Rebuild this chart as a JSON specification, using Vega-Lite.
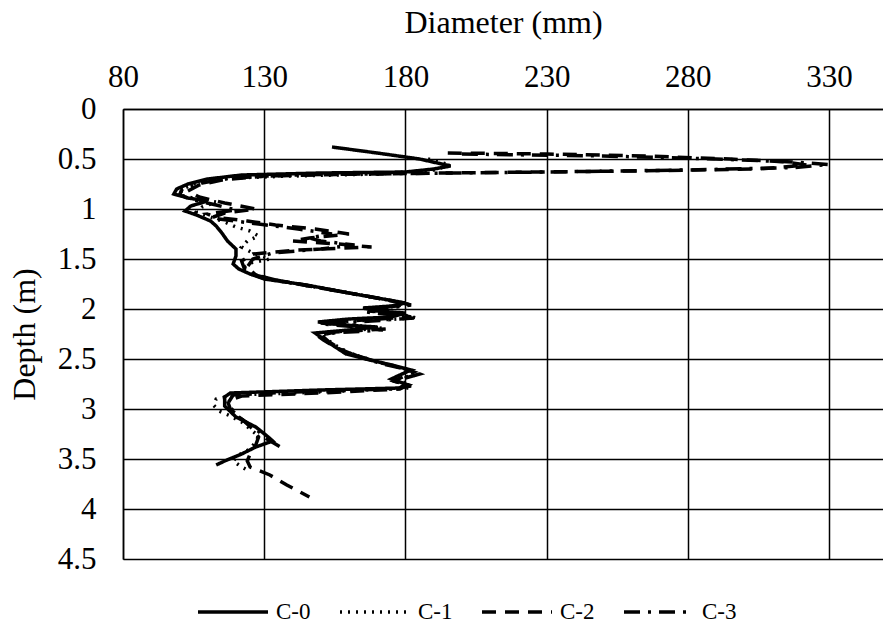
{
  "$schema": "https://vega.github.io/schema/vega-lite/v6.json",
  "width": 760,
  "height": 450,
  "autosize": {"type": "none"},
  "padding": {"left": 123, "top": 109, "right": 0, "bottom": 68},
  "background": "white",
  "config": {
    "font": "Liberation Serif",
    "view": {"stroke": null},
    "text": {"font": "Liberation Serif"},
    "axis": {
      "ticks": false,
      "grid": true,
      "gridColor": "black",
      "gridWidth": 1.5,
      "gridOpacity": 1,
      "domainColor": "black",
      "domainWidth": 1.5,
      "labelFont": "Liberation Serif",
      "titleFont": "Liberation Serif",
      "labelFontSize": 31,
      "titleFontSize": 32,
      "labelColor": "black",
      "titleColor": "black",
      "titleFontWeight": "normal",
      "labelFlush": false,
      "labelOverlap": false,
      "format": "~r"
    },
    "legend": {"labelFont": "Liberation Serif"}
  },
  "datasets": {
    "pts": [
      {"s": "C-0", "d": 0.38, "x": 154}, {"s": "C-0", "d": 0.44, "x": 170}, {"s": "C-0", "d": 0.50, "x": 185}, {"s": "C-0", "d": 0.57, "x": 196}, {"s": "C-0", "d": 0.60, "x": 190}, {"s": "C-0", "d": 0.63, "x": 180}, {"s": "C-0", "d": 0.64, "x": 150}, {"s": "C-0", "d": 0.66, "x": 122}, {"s": "C-0", "d": 0.70, "x": 110}, {"s": "C-0", "d": 0.75, "x": 103}, {"s": "C-0", "d": 0.80, "x": 99}, {"s": "C-0", "d": 0.85, "x": 98}, {"s": "C-0", "d": 0.89, "x": 103}, {"s": "C-0", "d": 0.92, "x": 110}, {"s": "C-0", "d": 0.97, "x": 104}, {"s": "C-0", "d": 1.02, "x": 102}, {"s": "C-0", "d": 1.06, "x": 106}, {"s": "C-0", "d": 1.12, "x": 111}, {"s": "C-0", "d": 1.17, "x": 113}, {"s": "C-0", "d": 1.24, "x": 115}, {"s": "C-0", "d": 1.32, "x": 117}, {"s": "C-0", "d": 1.40, "x": 120}, {"s": "C-0", "d": 1.47, "x": 120}, {"s": "C-0", "d": 1.55, "x": 119}, {"s": "C-0", "d": 1.60, "x": 121}, {"s": "C-0", "d": 1.65, "x": 125}, {"s": "C-0", "d": 1.70, "x": 130}, {"s": "C-0", "d": 1.76, "x": 145}, {"s": "C-0", "d": 1.84, "x": 160}, {"s": "C-0", "d": 1.90, "x": 172}, {"s": "C-0", "d": 1.94, "x": 180}, {"s": "C-0", "d": 1.97, "x": 175}, {"s": "C-0", "d": 1.99, "x": 165}, {"s": "C-0", "d": 2.02, "x": 170}, {"s": "C-0", "d": 2.04, "x": 180}, {"s": "C-0", "d": 2.08, "x": 175}, {"s": "C-0", "d": 2.10, "x": 160}, {"s": "C-0", "d": 2.13, "x": 149}, {"s": "C-0", "d": 2.16, "x": 158}, {"s": "C-0", "d": 2.18, "x": 170}, {"s": "C-0", "d": 2.21, "x": 160}, {"s": "C-0", "d": 2.24, "x": 148}, {"s": "C-0", "d": 2.28, "x": 150}, {"s": "C-0", "d": 2.34, "x": 153}, {"s": "C-0", "d": 2.45, "x": 159}, {"s": "C-0", "d": 2.50, "x": 166}, {"s": "C-0", "d": 2.56, "x": 175}, {"s": "C-0", "d": 2.61, "x": 182}, {"s": "C-0", "d": 2.66, "x": 178}, {"s": "C-0", "d": 2.70, "x": 175}, {"s": "C-0", "d": 2.75, "x": 180}, {"s": "C-0", "d": 2.79, "x": 178}, {"s": "C-0", "d": 2.81, "x": 150}, {"s": "C-0", "d": 2.84, "x": 118}, {"s": "C-0", "d": 2.88, "x": 116}, {"s": "C-0", "d": 2.97, "x": 116}, {"s": "C-0", "d": 3.08, "x": 120}, {"s": "C-0", "d": 3.18, "x": 127}, {"s": "C-0", "d": 3.27, "x": 131}, {"s": "C-0", "d": 3.32, "x": 133}, {"s": "C-0", "d": 3.38, "x": 127}, {"s": "C-0", "d": 3.45, "x": 122}, {"s": "C-0", "d": 3.52, "x": 116}, {"s": "C-0", "d": 3.56, "x": 113},

      {"s": "C-1", "d": 0.50, "x": 188}, {"s": "C-1", "d": 0.56, "x": 196}, {"s": "C-1", "d": 0.61, "x": 190}, {"s": "C-1", "d": 0.65, "x": 170}, {"s": "C-1", "d": 0.67, "x": 140}, {"s": "C-1", "d": 0.69, "x": 118}, {"s": "C-1", "d": 0.74, "x": 106}, {"s": "C-1", "d": 0.80, "x": 101}, {"s": "C-1", "d": 0.86, "x": 100}, {"s": "C-1", "d": 0.90, "x": 106}, {"s": "C-1", "d": 0.93, "x": 113}, {"s": "C-1", "d": 0.98, "x": 108}, {"s": "C-1", "d": 1.03, "x": 106}, {"s": "C-1", "d": 1.07, "x": 110}, {"s": "C-1", "d": 1.13, "x": 116}, {"s": "C-1", "d": 1.18, "x": 120}, {"s": "C-1", "d": 1.22, "x": 125}, {"s": "C-1", "d": 1.27, "x": 128}, {"s": "C-1", "d": 1.32, "x": 124}, {"s": "C-1", "d": 1.38, "x": 122}, {"s": "C-1", "d": 1.44, "x": 126}, {"s": "C-1", "d": 1.50, "x": 132}, {"s": "C-1", "d": 1.54, "x": 125}, {"s": "C-1", "d": 1.60, "x": 122}, {"s": "C-1", "d": 1.66, "x": 126}, {"s": "C-1", "d": 1.71, "x": 133}, {"s": "C-1", "d": 1.78, "x": 148}, {"s": "C-1", "d": 1.85, "x": 162}, {"s": "C-1", "d": 1.91, "x": 174}, {"s": "C-1", "d": 1.95, "x": 181}, {"s": "C-1", "d": 1.99, "x": 172}, {"s": "C-1", "d": 2.02, "x": 168}, {"s": "C-1", "d": 2.05, "x": 178}, {"s": "C-1", "d": 2.09, "x": 184}, {"s": "C-1", "d": 2.11, "x": 170}, {"s": "C-1", "d": 2.13, "x": 152}, {"s": "C-1", "d": 2.16, "x": 160}, {"s": "C-1", "d": 2.19, "x": 172}, {"s": "C-1", "d": 2.22, "x": 158}, {"s": "C-1", "d": 2.26, "x": 150}, {"s": "C-1", "d": 2.30, "x": 152}, {"s": "C-1", "d": 2.36, "x": 155}, {"s": "C-1", "d": 2.44, "x": 160}, {"s": "C-1", "d": 2.51, "x": 168}, {"s": "C-1", "d": 2.57, "x": 176}, {"s": "C-1", "d": 2.62, "x": 183}, {"s": "C-1", "d": 2.66, "x": 184}, {"s": "C-1", "d": 2.70, "x": 176}, {"s": "C-1", "d": 2.74, "x": 180}, {"s": "C-1", "d": 2.79, "x": 181}, {"s": "C-1", "d": 2.83, "x": 150}, {"s": "C-1", "d": 2.86, "x": 120}, {"s": "C-1", "d": 2.90, "x": 113}, {"s": "C-1", "d": 2.96, "x": 112}, {"s": "C-1", "d": 3.02, "x": 114}, {"s": "C-1", "d": 3.07, "x": 118}, {"s": "C-1", "d": 3.13, "x": 122}, {"s": "C-1", "d": 3.20, "x": 125}, {"s": "C-1", "d": 3.27, "x": 128}, {"s": "C-1", "d": 3.33, "x": 127}, {"s": "C-1", "d": 3.40, "x": 125}, {"s": "C-1", "d": 3.46, "x": 121}, {"s": "C-1", "d": 3.52, "x": 119}, {"s": "C-1", "d": 3.58, "x": 122}, {"s": "C-1", "d": 3.61, "x": 124},

      {"s": "C-2", "d": 0.44, "x": 195}, {"s": "C-2", "d": 0.45, "x": 230}, {"s": "C-2", "d": 0.47, "x": 265}, {"s": "C-2", "d": 0.50, "x": 295}, {"s": "C-2", "d": 0.53, "x": 315}, {"s": "C-2", "d": 0.56, "x": 322}, {"s": "C-2", "d": 0.60, "x": 305}, {"s": "C-2", "d": 0.62, "x": 260}, {"s": "C-2", "d": 0.635, "x": 210}, {"s": "C-2", "d": 0.65, "x": 165}, {"s": "C-2", "d": 0.67, "x": 130}, {"s": "C-2", "d": 0.71, "x": 115}, {"s": "C-2", "d": 0.76, "x": 107}, {"s": "C-2", "d": 0.82, "x": 103}, {"s": "C-2", "d": 0.88, "x": 107}, {"s": "C-2", "d": 0.94, "x": 116}, {"s": "C-2", "d": 1.00, "x": 127}, {"s": "C-2", "d": 1.04, "x": 116}, {"s": "C-2", "d": 1.08, "x": 112}, {"s": "C-2", "d": 1.12, "x": 124}, {"s": "C-2", "d": 1.16, "x": 134}, {"s": "C-2", "d": 1.20, "x": 148}, {"s": "C-2", "d": 1.25, "x": 160}, {"s": "C-2", "d": 1.29, "x": 146}, {"s": "C-2", "d": 1.32, "x": 140}, {"s": "C-2", "d": 1.35, "x": 156}, {"s": "C-2", "d": 1.38, "x": 168}, {"s": "C-2", "d": 1.41, "x": 142}, {"s": "C-2", "d": 1.45, "x": 126}, {"s": "C-2", "d": 1.52, "x": 122}, {"s": "C-2", "d": 1.60, "x": 123}, {"s": "C-2", "d": 1.67, "x": 128}, {"s": "C-2", "d": 1.72, "x": 136}, {"s": "C-2", "d": 1.80, "x": 152}, {"s": "C-2", "d": 1.87, "x": 166}, {"s": "C-2", "d": 1.93, "x": 177}, {"s": "C-2", "d": 1.96, "x": 180}, {"s": "C-2", "d": 1.99, "x": 170}, {"s": "C-2", "d": 2.02, "x": 167}, {"s": "C-2", "d": 2.05, "x": 177}, {"s": "C-2", "d": 2.08, "x": 182}, {"s": "C-2", "d": 2.11, "x": 165}, {"s": "C-2", "d": 2.14, "x": 150}, {"s": "C-2", "d": 2.17, "x": 162}, {"s": "C-2", "d": 2.20, "x": 173}, {"s": "C-2", "d": 2.23, "x": 155}, {"s": "C-2", "d": 2.27, "x": 149}, {"s": "C-2", "d": 2.31, "x": 151}, {"s": "C-2", "d": 2.38, "x": 155}, {"s": "C-2", "d": 2.46, "x": 162}, {"s": "C-2", "d": 2.53, "x": 170}, {"s": "C-2", "d": 2.58, "x": 178}, {"s": "C-2", "d": 2.63, "x": 183}, {"s": "C-2", "d": 2.68, "x": 179}, {"s": "C-2", "d": 2.72, "x": 176}, {"s": "C-2", "d": 2.76, "x": 181}, {"s": "C-2", "d": 2.80, "x": 178}, {"s": "C-2", "d": 2.84, "x": 150}, {"s": "C-2", "d": 2.87, "x": 122}, {"s": "C-2", "d": 2.92, "x": 117}, {"s": "C-2", "d": 3.00, "x": 118}, {"s": "C-2", "d": 3.10, "x": 122}, {"s": "C-2", "d": 3.20, "x": 126}, {"s": "C-2", "d": 3.28, "x": 128}, {"s": "C-2", "d": 3.36, "x": 127}, {"s": "C-2", "d": 3.45, "x": 125}, {"s": "C-2", "d": 3.52, "x": 124}, {"s": "C-2", "d": 3.58, "x": 125}, {"s": "C-2", "d": 3.66, "x": 132}, {"s": "C-2", "d": 3.76, "x": 138}, {"s": "C-2", "d": 3.88, "x": 146},

      {"s": "C-3", "d": 0.45, "x": 200}, {"s": "C-3", "d": 0.47, "x": 250}, {"s": "C-3", "d": 0.50, "x": 290}, {"s": "C-3", "d": 0.53, "x": 318}, {"s": "C-3", "d": 0.555, "x": 330}, {"s": "C-3", "d": 0.585, "x": 318}, {"s": "C-3", "d": 0.61, "x": 280}, {"s": "C-3", "d": 0.63, "x": 230}, {"s": "C-3", "d": 0.645, "x": 180}, {"s": "C-3", "d": 0.66, "x": 140}, {"s": "C-3", "d": 0.69, "x": 118}, {"s": "C-3", "d": 0.74, "x": 108}, {"s": "C-3", "d": 0.80, "x": 101}, {"s": "C-3", "d": 0.86, "x": 100}, {"s": "C-3", "d": 0.91, "x": 105}, {"s": "C-3", "d": 0.96, "x": 113}, {"s": "C-3", "d": 1.01, "x": 120}, {"s": "C-3", "d": 1.05, "x": 110}, {"s": "C-3", "d": 1.10, "x": 114}, {"s": "C-3", "d": 1.15, "x": 128}, {"s": "C-3", "d": 1.20, "x": 142}, {"s": "C-3", "d": 1.25, "x": 154}, {"s": "C-3", "d": 1.29, "x": 146}, {"s": "C-3", "d": 1.32, "x": 150}, {"s": "C-3", "d": 1.36, "x": 162}, {"s": "C-3", "d": 1.40, "x": 150}, {"s": "C-3", "d": 1.44, "x": 133}, {"s": "C-3", "d": 1.50, "x": 126}, {"s": "C-3", "d": 1.58, "x": 124}, {"s": "C-3", "d": 1.66, "x": 127}, {"s": "C-3", "d": 1.71, "x": 134}, {"s": "C-3", "d": 1.79, "x": 150}, {"s": "C-3", "d": 1.86, "x": 164}, {"s": "C-3", "d": 1.92, "x": 176}, {"s": "C-3", "d": 1.96, "x": 182}, {"s": "C-3", "d": 2.00, "x": 171}, {"s": "C-3", "d": 2.03, "x": 166}, {"s": "C-3", "d": 2.06, "x": 176}, {"s": "C-3", "d": 2.09, "x": 183}, {"s": "C-3", "d": 2.12, "x": 168}, {"s": "C-3", "d": 2.15, "x": 151}, {"s": "C-3", "d": 2.18, "x": 163}, {"s": "C-3", "d": 2.21, "x": 172}, {"s": "C-3", "d": 2.24, "x": 154}, {"s": "C-3", "d": 2.28, "x": 151}, {"s": "C-3", "d": 2.33, "x": 153}, {"s": "C-3", "d": 2.40, "x": 157}, {"s": "C-3", "d": 2.48, "x": 164}, {"s": "C-3", "d": 2.55, "x": 172}, {"s": "C-3", "d": 2.60, "x": 180}, {"s": "C-3", "d": 2.65, "x": 185}, {"s": "C-3", "d": 2.69, "x": 180}, {"s": "C-3", "d": 2.73, "x": 177}, {"s": "C-3", "d": 2.77, "x": 182}, {"s": "C-3", "d": 2.80, "x": 175}, {"s": "C-3", "d": 2.83, "x": 140}, {"s": "C-3", "d": 2.86, "x": 119}, {"s": "C-3", "d": 2.95, "x": 117}, {"s": "C-3", "d": 3.08, "x": 121}, {"s": "C-3", "d": 3.20, "x": 127}, {"s": "C-3", "d": 3.30, "x": 131}, {"s": "C-3", "d": 3.40, "x": 137}
    ]
  },
  "data": {"name": "pts"},
  "mark": {"type": "line", "strokeWidth": 3.5, "color": "black", "clip": true},
  "encoding": {
    "x": {
      "field": "x", "type": "quantitative",
      "scale": {"domain": [80, 349.1], "nice": false, "zero": false},
      "axis": {"orient": "top", "title": "Diameter (mm)", "values": [80, 130, 180, 230, 280, 330], "labelFont": "Liberation Serif", "titleFont": "Liberation Serif", "labelPadding": 16, "titlePadding": 22}
    },
    "y": {
      "field": "d", "type": "quantitative",
      "scale": {"domain": [0, 4.5], "reverse": true, "nice": false, "zero": false},
      "axis": {"title": "Depth (m)", "values": [0, 0.5, 1, 1.5, 2, 2.5, 3, 3.5, 4, 4.5], "labelFont": "Liberation Serif", "titleFont": "Liberation Serif", "labelPadding": 27, "titlePadding": 16}
    },
    "strokeDash": {
      "field": "s", "type": "nominal",
      "scale": {"domain": ["C-0", "C-1", "C-2", "C-3"], "range": [[1, 0], [2, 6], [14, 9], [16, 8, 3, 8]]},
      "legend": {
        "title": null, "orient": "none", "direction": "horizontal",
        "legendX": 73, "legendY": 466,
        "symbolType": "stroke", "symbolSize": 4900, "symbolStrokeWidth": 3.5, "symbolStrokeColor": "black",
        "labelFont": "Liberation Serif",
        "labelFontSize": 23, "labelColor": "black", "labelOffset": 6, "columnPadding": 22
      }
    },
    "order": {"field": "d", "type": "quantitative"}
  }
}
